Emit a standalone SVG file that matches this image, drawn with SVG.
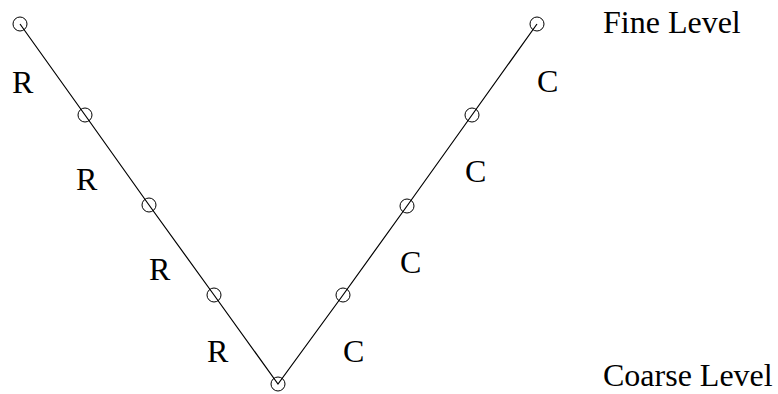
<svg xmlns="http://www.w3.org/2000/svg" width="778" height="394" viewBox="0 0 778 394">
<style>
.n{fill:none;stroke:#000;stroke-width:1}
.e{fill:none;stroke:#000;stroke-width:1.2}
text{font-family:"Liberation Serif","Times New Roman",serif;font-size:32px;fill:#000}
</style>
<rect width="778" height="394" fill="#fff"/>
<g id="connectors">
<polyline class="e" points="20,24 85,115 149,205 214,295 278,384 343,295 407,206 472,115 537,24"/>
</g>
<g id="n1"><circle class="n" cx="20" cy="24" r="7"/></g>
<g id="n2"><circle class="n" cx="85" cy="115" r="7"/></g>
<g id="n3"><circle class="n" cx="149" cy="205" r="7"/></g>
<g id="n4"><circle class="n" cx="214" cy="295" r="7"/></g>
<g id="n5"><circle class="n" cx="278" cy="384" r="7"/></g>
<g id="n6"><circle class="n" cx="343" cy="295" r="7"/></g>
<g id="n7"><circle class="n" cx="407" cy="206" r="7"/></g>
<g id="n8"><circle class="n" cx="472" cy="115" r="7"/></g>
<g id="n9"><circle class="n" cx="537" cy="24" r="7"/></g>
<g id="labels">
<text x="12" y="93">R</text>
<text x="76" y="190">R</text>
<text x="149" y="280">R</text>
<text x="207" y="362">R</text>
<text x="537" y="92">C</text>
<text x="465" y="182">C</text>
<text x="400" y="273">C</text>
<text x="343" y="362">C</text>
<text x="603" y="33">Fine Level</text>
<text x="603" y="386">Coarse Level</text>
</g>
</svg>
